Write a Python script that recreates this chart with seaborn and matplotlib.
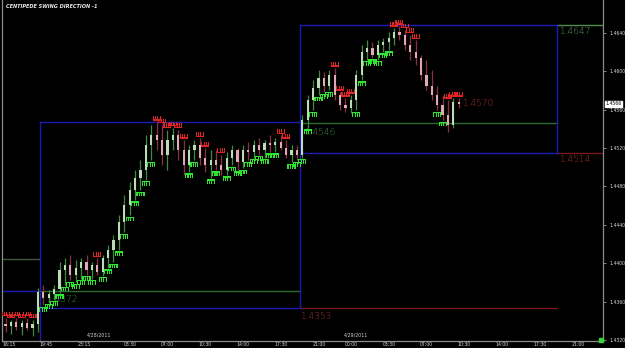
import numpy as np
import pandas as pd
import matplotlib
matplotlib.use("Agg")
import matplotlib.pyplot as plt
from matplotlib.path import Path
import seaborn as sns

sns.set_style("dark", {"axes.facecolor": "black", "figure.facecolor": "black"})
plt.rcParams['font.family'] = ['DejaVu Sans']

# ---------------- data ----------------
bar_times = pd.date_range("2011-04-27 16:35", periods=85, freq="30min")

opens = [1.4337, 1.4335, 1.4339, 1.4334, 1.4338, 1.4332, 1.4337, 1.4370, 1.4364, 1.4368,
         1.4373, 1.4393, 1.4398, 1.4388, 1.4395, 1.4401, 1.4393, 1.4398, 1.4391, 1.4405,
         1.4414, 1.4424, 1.4443, 1.4461, 1.4476, 1.4489, 1.4497, 1.4523, 1.4533, 1.4528,
         1.4513, 1.4528, 1.4533, 1.4518, 1.4502, 1.4518, 1.4523, 1.4510, 1.4502, 1.4507,
         1.4502, 1.4497, 1.4510, 1.4518, 1.4505, 1.4518, 1.4516, 1.4523, 1.4518, 1.4525,
         1.4523, 1.4526, 1.4520, 1.4513, 1.4518, 1.4513, 1.4549, 1.4570, 1.4582, 1.4593,
         1.4585, 1.4596, 1.4575, 1.4565, 1.4562, 1.4570, 1.4596, 1.4620, 1.4624, 1.4617,
         1.4627, 1.4630, 1.4634, 1.4641, 1.4638, 1.4627, 1.4620, 1.4614, 1.4596, 1.4585,
         1.4575, 1.4565, 1.4554, 1.4544, 1.4568]
highs = [1.4343, 1.4341, 1.4343, 1.4341, 1.4343, 1.4341, 1.4374, 1.4377, 1.4372, 1.4377,
         1.4401, 1.4405, 1.4408, 1.4403, 1.4405, 1.4408, 1.4401, 1.4405, 1.4408, 1.4419,
         1.4429, 1.4450, 1.4471, 1.4485, 1.4497, 1.4507, 1.4533, 1.4544, 1.4547, 1.4544,
         1.4539, 1.4541, 1.4539, 1.4528, 1.4523, 1.4528, 1.4530, 1.4520, 1.4518, 1.4518,
         1.4513, 1.4516, 1.4523, 1.4520, 1.4523, 1.4526, 1.4528, 1.4530, 1.4528, 1.4533,
         1.4530, 1.4533, 1.4528, 1.4523, 1.4523, 1.4554, 1.4575, 1.4591, 1.4601, 1.4599,
         1.4601, 1.4603, 1.4578, 1.4572, 1.4575, 1.4601, 1.4627, 1.4632, 1.4630, 1.4632,
         1.4634, 1.4641, 1.4645, 1.4647, 1.4643, 1.4638, 1.4632, 1.4617, 1.4612, 1.4601,
         1.4585, 1.4575, 1.4570, 1.4572, 1.4572]
lows = [1.4328, 1.4326, 1.4330, 1.4325, 1.4330, 1.4324, 1.4328, 1.4356, 1.4359, 1.4362,
        1.4369, 1.4377, 1.4382, 1.4380, 1.4384, 1.4388, 1.4384, 1.4388, 1.4387, 1.4395,
        1.4401, 1.4414, 1.4432, 1.4450, 1.4466, 1.4476, 1.4487, 1.4507, 1.4518, 1.4502,
        1.4497, 1.4518, 1.4507, 1.4492, 1.4495, 1.4507, 1.4502, 1.4495, 1.4489, 1.4497,
        1.4492, 1.4492, 1.4502, 1.4497, 1.4499, 1.4507, 1.4510, 1.4513, 1.4510, 1.4516,
        1.4516, 1.4518, 1.4510, 1.4505, 1.4507, 1.4510, 1.4541, 1.4559, 1.4575, 1.4578,
        1.4580, 1.4570, 1.4559, 1.4557, 1.4556, 1.4559, 1.4591, 1.4612, 1.4614, 1.4612,
        1.4620, 1.4622, 1.4627, 1.4632, 1.4622, 1.4612, 1.4606, 1.4591, 1.4580, 1.4570,
        1.4559, 1.4549, 1.4537, 1.4541, 1.4562]
closes = [1.4335, 1.4339, 1.4334, 1.4338, 1.4332, 1.4337, 1.4370, 1.4364, 1.4368, 1.4373,
          1.4393, 1.4398, 1.4388, 1.4395, 1.4401, 1.4393, 1.4398, 1.4391, 1.4405, 1.4414,
          1.4424, 1.4443, 1.4461, 1.4476, 1.4489, 1.4497, 1.4523, 1.4533, 1.4528, 1.4513,
          1.4528, 1.4533, 1.4518, 1.4502, 1.4518, 1.4523, 1.4510, 1.4502, 1.4507, 1.4502,
          1.4497, 1.4510, 1.4518, 1.4505, 1.4518, 1.4516, 1.4523, 1.4518, 1.4525, 1.4523,
          1.4526, 1.4520, 1.4513, 1.4518, 1.4513, 1.4549, 1.4570, 1.4582, 1.4593, 1.4585,
          1.4596, 1.4575, 1.4565, 1.4562, 1.4570, 1.4596, 1.4620, 1.4624, 1.4617, 1.4627,
          1.4630, 1.4634, 1.4641, 1.4638, 1.4627, 1.4620, 1.4614, 1.4596, 1.4585, 1.4575,
          1.4565, 1.4554, 1.4544, 1.4568, 1.4566]
# centipede markers: g = green below low, r = red above high, n = none
centipede = list("rrrrrr" "n" "gggggggggg" "r" "gggggggggg" "rrrrrr" "gg" "rr" "gg" "r"
                 "gggggggggg" "rr" "gggggggg" "rrrr" "ggggggg" "rrrrr" "nnn" "gg" "rrr")

# swing boxes / levels
level_start = ["2011-04-27 16:15", "2011-04-27 19:45", "2011-04-27 19:45", "2011-04-27 16:15",
               "2011-04-27 19:45", "2011-04-28 19:50", "2011-04-28 19:50", "2011-04-28 19:50",
               "2011-04-28 19:50", "2011-04-29 19:40", "2011-04-29 19:40"]
level_end = ["2011-04-27 19:45", "2011-04-28 19:50", "2011-04-28 19:50", "2011-04-27 19:45",
             "2011-04-28 19:50", "2011-04-29 19:40", "2011-04-29 19:40", "2011-04-29 19:40",
             "2011-04-29 19:40", "2011-04-30 00:00", "2011-04-30 00:00"]
level_price = [1.4371, 1.4547, 1.4353, 1.4404, 1.4371, 1.4648, 1.4515, 1.4546, 1.4353, 1.4648, 1.4515]
level_kind = ["box", "box", "box", "old", "mid", "box", "box", "mid", "low", "high", "low"]

vline_time = ["2011-04-27 19:45", "2011-04-28 19:50", "2011-04-29 19:40"]
vline_top = [1.4547, 1.4648, 1.4648]
vline_bottom = [1.4310, 1.4353, 1.4515]

level_labels = ["1.4647", "1.4514", "1.4353", "1.4546", "1.4372", "1.4570"]
label_time = ["2011-04-29 19:55", "2011-04-29 19:55", "2011-04-28 19:50", "2011-04-28 20:15",
              "2011-04-27 20:20", "2011-04-29 10:55"]
label_price = [1.4646, 1.4513, 1.4349, 1.4541, 1.4367, 1.4571]
label_kind = ["high", "low", "low", "mid", "mid", "low"]

xtick_times = ["2011-04-27 16:15", "2011-04-27 19:45", "2011-04-27 23:15", "2011-04-28 03:30",
               "2011-04-28 07:00", "2011-04-28 10:30", "2011-04-28 14:00", "2011-04-28 17:30",
               "2011-04-28 21:00", "2011-04-29 00:00", "2011-04-29 03:30", "2011-04-29 07:00",
               "2011-04-29 10:30", "2011-04-29 14:00", "2011-04-29 17:30", "2011-04-29 21:00"]
xtick_labels = ["16:15", "19:45", "23:15", "03:30", "07:00", "10:30", "14:00", "17:30",
                "21:00", "00:00", "03:30", "07:00", "10:30", "14:00", "17:30", "21:00"]
ytick_values = [1.4320, 1.4360, 1.4400, 1.4440, 1.4480, 1.4520, 1.4560, 1.4600, 1.4640]
ytick_labels = ["1.4320", "1.4360", "1.4400", "1.4440", "1.4480", "1.4520", "1.4560", "1.4600", "1.4640"]
date_labels = ["4/28/2011", "4/29/2011"]
date_label_times = ["2011-04-28 00:05", "2011-04-28 23:55"]
last_price = 1.4566
title = "CENTIPEDE SWING DIRECTION -1"

# ---------------- figure ----------------
W, H = 625, 348
fig = plt.figure(figsize=(W / 100, H / 100), dpi=100, facecolor="black")
ax = fig.add_axes([2 / W, 7 / H, 601 / W, 341 / H])
ax.set_facecolor("black")

df = pd.DataFrame({"time": bar_times, "open": opens, "high": highs, "low": lows,
                   "close": closes, "mark": centipede})
df["up"] = df["close"] >= df["open"]

kind_color = {"box": "#1c1cb4", "mid": "#2f6b2f", "old": "#40583f", "high": "#4f8f4f", "low": "#7a1a1a"}
text_color = {"high": "#5fa05f", "mid": "#3c8c3c", "low": "#a83030"}

# levels
for s, e, p, k in zip(level_start, level_end, level_price, level_kind):
    ax.plot([pd.Timestamp(s), pd.Timestamp(e)], [p, p], color=kind_color[k], lw=1.0, zorder=1)
for t, top, bot in zip(vline_time, vline_top, vline_bottom):
    ax.plot([pd.Timestamp(t), pd.Timestamp(t)], [bot, top], color=kind_color["box"], lw=1.0, zorder=1)

# candles
wick_col = np.where(df["up"], "#3f8a3f", "#8a3040")
body_col = np.where(df["up"], "#bddcb5", "#e0a9b3")
ax.vlines(df["time"], df["low"], df["high"], colors=wick_col, lw=0.9, zorder=3)
body_h = np.maximum((df["close"] - df["open"]).abs(), 0.00006)
body_b = np.minimum(df["close"], df["open"])
ax.bar(df["time"], body_h, bottom=body_b, width=0.0085, color=body_col, linewidth=0, zorder=4)

# centipede markers
comb = [(-1, 0.6), (1, 0.6), (1, -0.6), (0.72, -0.6), (0.72, 0.25), (0.38, 0.25), (0.38, -0.6),
        (0.12, -0.6), (0.12, 0.25), (-0.12, 0.25), (-0.12, -0.6), (-0.38, -0.6), (-0.38, 0.25),
        (-0.72, 0.25), (-0.72, -0.6), (-1, -0.6), (-1, 0.6)]
comb_down = Path(comb, closed=True)
comb_up = Path([(x, -y) for x, y in comb], closed=True)

g = df[df["mark"] == "g"]
r = df[df["mark"] == "r"]
sns.scatterplot(x=g["time"], y=g["low"] - 0.0004, marker=comb_down, s=34, color="#2ee62e",
                edgecolor="none", linewidth=0, ax=ax, zorder=5)
sns.scatterplot(x=r["time"], y=r["high"] + 0.0004, marker=comb_up, s=34, color="#e02424",
                edgecolor="none", linewidth=0, ax=ax, zorder=5)

# level labels
for txt, t, p, k in zip(level_labels, label_time, label_price, label_kind):
    ax.text(pd.Timestamp(t), p, txt, color=text_color[k], fontsize=6.5, ha="left", va="top",
            zorder=2 if k == "mid" else 6, fontweight="light")

# axes
ax.set_xlim(pd.Timestamp("2011-04-27 16:15"), pd.Timestamp("2011-04-29 23:57"))
ax.set_ylim(1.43189, 1.46741)
ax.set_xticks([pd.Timestamp(t) for t in xtick_times])
ax.set_xticklabels(xtick_labels, ha="left")
ax.yaxis.tick_right()
ax.set_yticks(ytick_values)
ax.set_yticklabels(ytick_labels)
ax.tick_params(axis="both", colors="#9a9a9a", labelcolor="#d8d8d8", labelsize=3.3,
               length=2, width=0.6)
ax.tick_params(axis="x", direction="in", pad=0.6)
ax.tick_params(axis="y", direction="out", pad=2.5)
ax.set_xlabel("")
ax.set_ylabel("")
ax.grid(False)
for side in ["left", "right", "bottom"]:
    ax.spines[side].set_visible(True)
    ax.spines[side].set_color("#8c8c8c")
    ax.spines[side].set_linewidth(0.9)
ax.spines["top"].set_visible(False)

for txt, t in zip(date_labels, date_label_times):
    ax.text(pd.Timestamp(t), 1.43225, txt, color="#d0d0d0", fontsize=3.4, ha="left", va="bottom")

ax.text(1.004, last_price, f"{last_price:.4f}", transform=ax.get_yaxis_transform(),
        color="black", fontsize=3.3, ha="left", va="center",
        bbox=dict(boxstyle="square,pad=0.15", fc="white", ec="white"), clip_on=False, zorder=10)

# small status square on the price scale
ax.plot([0.997], [0.004], marker="s", ms=3.2, color="#3ad23a", transform=ax.transAxes,
        clip_on=False, zorder=10)

fig.text(6 / W, 1 - 7 / H, title, color="#e8e8e8", fontsize=3.6, fontstyle="italic",
         fontweight="bold", ha="left", va="center")

fig.savefig("out.png", dpi=100, facecolor="black")
